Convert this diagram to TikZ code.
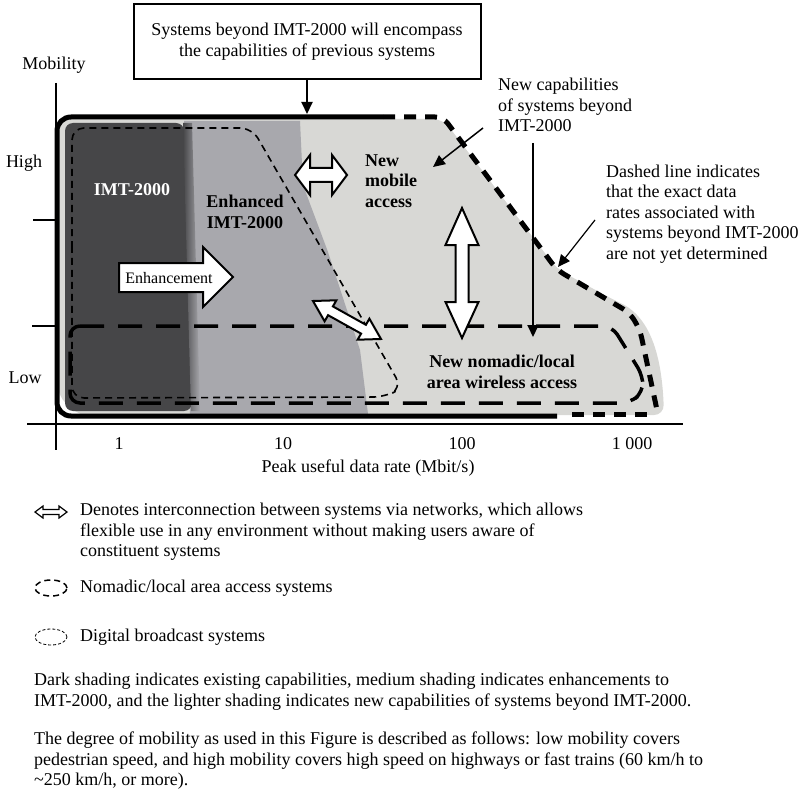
\documentclass[tikz,border=0pt]{standalone}
\usepackage{fontspec}
\setmainfont{Liberation Serif}
\usetikzlibrary{arrows.meta}
\definecolor{lightshade}{RGB}{216,216,213}
\definecolor{midshade}{RGB}{168,168,173}
\definecolor{darkshade}{RGB}{70,70,72}
\begin{document}
\begin{tikzpicture}[x=1pt,y=-1pt,
  txt/.style={font=\fontsize{18}{20.5}\selectfont, inner sep=0pt},
  btxt/.style={font=\fontsize{18}{20.5}\selectfont\bfseries, inner sep=0pt},
  blockarrow/.style={draw=black, fill=white, line width=2pt, line join=miter},
  axisline/.style={line width=2pt},
  envsolid/.style={line width=5pt},
  envdash/.style={line width=5pt, dash pattern=on 12pt off 9pt},
  broadcast/.style={line width=1.6pt, dash pattern=on 7pt off 5pt, rounded corners=12pt},
  nomadic/.style={line width=3.5pt, dash pattern=on 24pt off 14pt, rounded corners=10pt},
  thinarrow/.style={line width=1.5pt, -{Triangle[length=12pt,width=11pt]}},
]
\useasboundingbox (0,0) rectangle (801,797);

% ---------- shaded regions ----------
\fill[lightshade, rounded corners=10pt] (58,119) -- (443,119) -- (557,269) -- (612,299)
   .. controls (652,318) and (662,360) .. (664,415) -- (80,416) -- (58,396) -- cycle;
\fill[midshade] (184,121) -- (300,121) -- (303,185) -- (328,252) -- (360,350) -- (368,414) -- (190,414) -- cycle;
\fill[darkshade, rounded corners=8pt] (65,123) -- (184,123) -- (192,411) -- (65,411) -- cycle;
\shade[left color=darkshade, right color=midshade] (183,123) -- (192,123) -- (200,411) -- (191,411) -- cycle;

% ---------- axes ----------
\draw[axisline] (56,83) -- (56,450);
\draw[axisline] (27,424) -- (683,424);
\draw[axisline] (33,220) -- (56,220);
\draw[axisline] (32,326) -- (56,326);

% ---------- envelope (thick) ----------
\draw[envsolid, rounded corners=14pt] (383,117) -- (57,117) -- (57,416) -- (557,416);
\draw[envdash, rounded corners=8pt] (383,117) -- (443,117) -- (557,270) -- (630,313) -- (640,330) -- (657,410);
\draw[envdash] (572,414) -- (650,414);

% ---------- broadcast (thin dashed) ----------
\draw[broadcast] (72,260) -- (72,128) -- (252,128) -- (402,388) -- (385,397) -- (72,398) -- cycle;

% ---------- nomadic (long dashed) ----------
\draw[nomadic] (70,326) -- (612,326) -- (643,376) -- (643,392) -- (630,403) -- (70,403) -- cycle;

% ---------- block arrows ----------
\draw[blockarrow] (119,263) -- (203,263) -- (203,247) -- (233,277) -- (203,307) -- (203,292) -- (119,292) -- cycle;
\node[font=\fontsize{16}{18}\selectfont, inner sep=0pt] (enh) at (169,278) {Enhancement};

\draw[blockarrow] (295,175) -- (310,155) -- (310,168) -- (332,168) -- (332,155) -- (347,175)
   -- (332,195) -- (332,182) -- (310,182) -- (310,195) -- cycle;

\draw[blockarrow] (462,208) -- (478.5,245) -- (468.5,245) -- (468.5,302) -- (478.5,302) -- (462,338)
   -- (445.5,302) -- (455.5,302) -- (455.5,245) -- (445.5,245) -- cycle;

\draw[blockarrow] (313,301) -- (336.4,300.3) -- (332.9,306.4) -- (365.9,324.8) -- (369.4,318.7) -- (381,339)
   -- (357.6,339.7) -- (361.1,333.6) -- (328.1,315.2) -- (324.6,321.3) -- cycle;

% ---------- texts in chart ----------
\node[btxt, text=white] (imt) at (132,190) {IMT-2000};
\node[btxt, align=center] (enhimt) at (245,212) {Enhanced\\IMT-2000};
\node[btxt, align=left, anchor=west] (newmob) at (365,181) {New\\mobile\\access};
\node[btxt, align=center] (nomad) at (502,372) {New nomadic/local\\area wireless access};

\node[txt] (mob) at (54,65) {Mobility};
\node[txt] (high) at (24,163) {High};
\node[txt] (low) at (25,378) {Low};

\node[txt] (x1) at (119,444) {1};
\node[txt] (x10) at (283,444) {10};
\node[txt] (x100) at (462,444) {100};
\node[txt] (x1000) at (632,444) {1 000};
\node[txt] (xlab) at (368,468) {Peak useful data rate (Mbit/s)};

% ---------- top box ----------
\node[txt, draw, line width=2pt, minimum width=347pt, minimum height=75pt, align=center] (box) at (307,41.5)
  {Systems beyond IMT-2000 will encompass\\the capabilities of previous systems};
\coordinate (boxtip) at (307,114);
\draw[thinarrow, line width=2pt] (box) -- (boxtip);

% ---------- annotations ----------
\node[txt, align=left, anchor=west] (newcap) at (498,105) {New capabilities\\of systems beyond\\IMT-2000};
\coordinate (nc1) at (483,128);
\coordinate (nc2) at (433,167);
\draw[thinarrow] (nc1) -- (nc2);
\coordinate (va1) at (533,143);
\coordinate (va2) at (533,337);
\draw[thinarrow, line width=2pt] (va1) -- (va2);

\node[txt, align=left, anchor=west] (dashnote) at (606,214)
  {Dashed line indicates\\that the exact data\\rates associated with\\systems beyond IMT-2000\\are not yet determined};
\coordinate (dn1) at (595,220);
\coordinate (dn2) at (558,267);
\draw[thinarrow, line width=1.2pt] (dn1) -- (dn2);

% ---------- legend ----------
\draw[line width=1.2pt, fill=white] (35,512) -- (43,506) -- (43,509.5) -- (59,509.5) -- (59,506) -- (67,512)
   -- (59,518) -- (59,514.5) -- (43,514.5) -- (43,518) -- cycle;
\node[txt, align=left, anchor=north west] (leg1) at (80,503)
  {Denotes interconnection between systems via networks, which allows\\flexible use in any environment without making users aware of\\constituent systems};
\draw[line width=1.5pt, dash pattern=on 6pt off 4pt] (51,588) ellipse [x radius=16pt, y radius=8pt];
\node[txt, anchor=west] (leg2) at (80,588) {Nomadic/local area access systems};
\draw[line width=0.8pt, dash pattern=on 3pt off 2pt] (51,637) ellipse [x radius=16pt, y radius=8pt];
\node[txt, anchor=west] (leg3) at (80,637) {Digital broadcast systems};

\node[txt, align=left, anchor=north west] (para1) at (34,673)
  {Dark shading indicates existing capabilities, medium shading indicates enhancements to\\IMT-2000, and the lighter shading indicates new capabilities of systems beyond IMT-2000.};
\node[txt, align=left, anchor=north west] (para2) at (34,732)
  {The degree of mobility as used in this Figure is described as follows: low mobility covers\\pedestrian speed, and high mobility covers high speed on highways or fast trains (60 km/h to\\\textasciitilde 250 km/h, or more).};
\end{tikzpicture}
\end{document}
